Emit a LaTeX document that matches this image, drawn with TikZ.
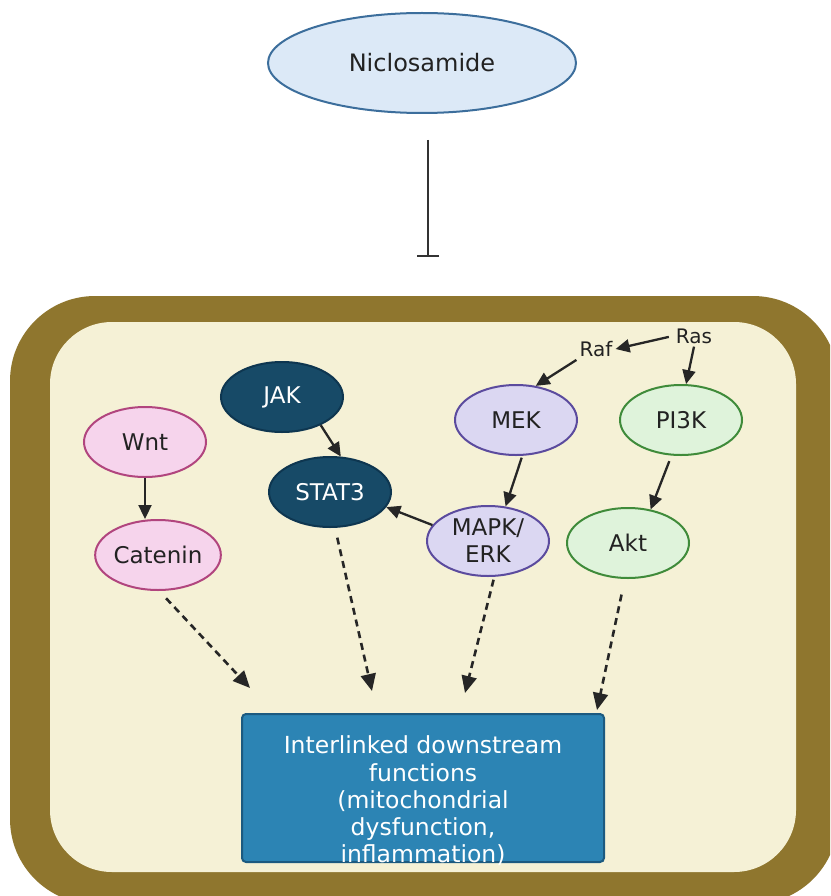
\documentclass[tikz,border=0pt]{standalone}
\usepackage{fontspec}
\setmainfont{DejaVu Sans}
\usetikzlibrary{shapes.geometric,arrows.meta}
\definecolor{cellbrown}{HTML}{8F762E}
\definecolor{cellcream}{HTML}{F5F1D6}
\definecolor{nicfill}{HTML}{DCE9F7}
\definecolor{nicdraw}{HTML}{3C6E9C}
\definecolor{jakfill}{HTML}{174A67}
\definecolor{jakdraw}{HTML}{0E3650}
\definecolor{wntfill}{HTML}{F6D4EC}
\definecolor{wntdraw}{HTML}{B1457E}
\definecolor{mekfill}{HTML}{DBD7F2}
\definecolor{mekdraw}{HTML}{5B4B9E}
\definecolor{pifill}{HTML}{DFF3DB}
\definecolor{pidraw}{HTML}{3F8B3A}
\definecolor{boxfill}{HTML}{2C84B4}
\definecolor{boxdraw}{HTML}{1C5A80}
\definecolor{txt}{HTML}{222222}
\tikzset{
  prot/.style={ellipse, minimum width=122pt, minimum height=70pt, inner sep=0pt, line width=2pt, font=\fontsize{23}{27}\selectfont, text=txt, align=center},
  jakst/.style={prot, fill=jakfill, draw=jakdraw, text=white},
  wntst/.style={prot, fill=wntfill, draw=wntdraw},
  mekst/.style={prot, fill=mekfill, draw=mekdraw},
  pist/.style={prot, fill=pifill, draw=pidraw},
  small/.style={font=\fontsize{20}{22}\selectfont, text=txt, inner sep=3pt},
  arr/.style={-{Triangle[length=14pt,width=13pt]}, line width=2.3pt, draw=black!85},
  darr/.style={arr, line width=2.6pt, dash pattern=on 7pt off 5pt, -{Triangle[length=17pt,width=15pt]}},
}
\begin{document}
\begin{tikzpicture}[x=1pt,y=-1pt]
\useasboundingbox (0,0) rectangle (830,896);
\begin{scope}
\clip (0,0) rectangle (830,896);
\fill[cellbrown, rounded corners=85pt] (10,296) rectangle (838,904);
\fill[cellcream, rounded corners=62pt] (50,322) rectangle (796,872);
\end{scope}

\node[ellipse, minimum width=308pt, minimum height=100pt, fill=nicfill, draw=nicdraw, line width=2pt, font=\fontsize{24}{26}\selectfont, text=txt] (nic) at (422,63) {Niclosamide};
\coordinate (inhtop) at (428,140);
\coordinate (inhend) at (428,257);
\draw[line width=2.2pt, draw=black!80, -{Bar[width=22pt,line width=2.2pt]}] (inhtop) -- (inhend);

\node[jakst] (jak) at (282,397) {JAK};
\node[jakst] (stat) at (330,492) {STAT3};
\node[wntst] (wnt) at (145,442) {Wnt};
\node[wntst] (cat) at (158,555) {Catenin};
\node[mekst] (mek) at (516,420) {MEK};
\node[mekst] (mapk) at (488,541) {MAPK/\\ERK};
\node[pist] (pik) at (681,420) {PI3K};
\node[pist] (akt) at (628,543) {Akt};
\node[small] (raf) at (596,349) {Raf};
\node[small] (ras) at (694,336) {Ras};

\node[rectangle, rounded corners=4pt, fill=boxfill, draw=boxdraw, line width=2pt, minimum width=362pt, minimum height=148pt] (box) at (423,788) {};
\node[text=white, align=center, font=\fontsize{23.5}{27.2}\selectfont] (boxtext) at (423,801) {Interlinked downstream\\functions\\(mitochondrial\\dysfunction,\\inflammation)};

\draw[arr, shorten <=4pt] (ras.west) -- (raf.east);
\draw[arr] (raf.south west) -- (mek.60);
\draw[arr] (ras.south) -- (pik.82);
\draw[arr] (jak.-36) -- (stat.73);
\draw[arr] (wnt.south) -- (wnt.south |- cat.north);
\draw[arr, shorten <=2pt] (mek.-80) -- (mapk.63);
\draw[arr, shorten <=6pt] (pik.-105) -- (akt.56);
\draw[arr] (mapk.164) -- (stat.-15);

\coordinate (e1) at (250,688);
\coordinate (e2) at (372,691);
\coordinate (e3) at (465,693);
\coordinate (e4) at (597,710);
\draw[darr, shorten <=10pt] (cat.-88) -- (e1);
\draw[darr, shorten <=10pt] (stat.-82) -- (e2);
\draw[darr, shorten <=3pt] (mapk.-80) -- (e3);
\draw[darr, shorten <=16pt] (akt.-95) -- (e4);
\end{tikzpicture}
\end{document}
